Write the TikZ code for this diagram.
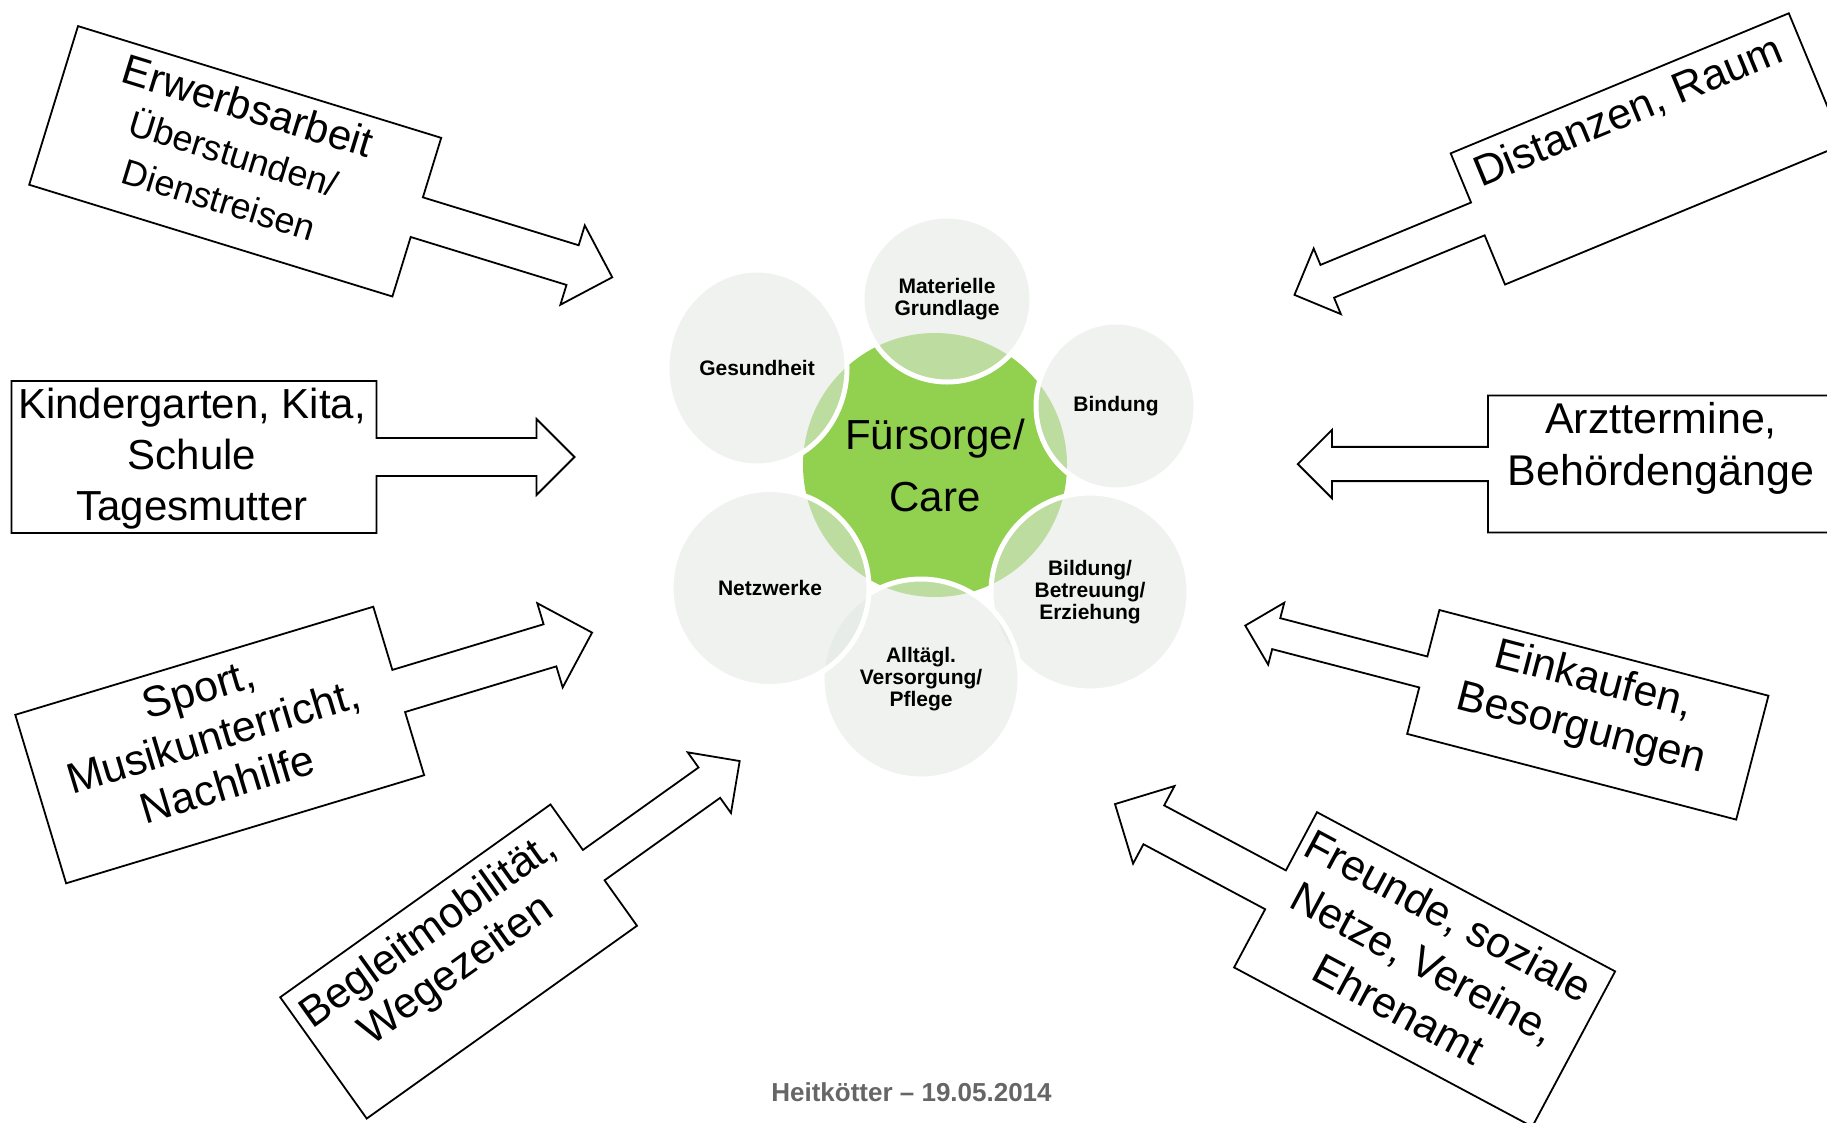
\documentclass[tikz,border=0pt]{standalone}
\usepackage{fontspec}
\setmainfont{Liberation Sans}
\usetikzlibrary{shapes.geometric}
\definecolor{cgreen}{HTML}{92D050}
\definecolor{csat}{RGB}{227,231,227}
\definecolor{cfoot}{HTML}{666666}
\tikzset{
  calloutline/.style={draw=black, fill=white, line width=1.8pt},
  calltext/.style={align=center, inner sep=0pt, font=\fontsize{43}{50}\selectfont},
  core/.style={circle, fill=cgreen, minimum size=264pt, inner sep=0pt},
  coretext/.style={align=center, inner sep=0pt, font=\fontsize{42}{62}\selectfont},
  satellite/.style 2 args={ellipse, minimum width=#1, minimum height=#2, inner sep=0pt,
    fill=csat, fill opacity=0.54, text opacity=1, draw=white, line width=5pt,
    align=center, font=\bfseries\fontsize{21}{21.7}\selectfont},
  footer/.style={font=\bfseries\fontsize{26}{26}\selectfont, text=cfoot},
  % box of width #1, height #2, shaft of length #3 pointing along +x
  pics/callout/.style n args={3}{code={
    \draw[calloutline] ({-#1/2},{-#2/2}) -- ({#1/2},{-#2/2}) -- ({#1/2},{-#2/8})
      -- ({#1/2+#3},{-#2/8}) -- ({#1/2+#3},{-#2/4}) -- ({#1/2+#3+#2/4},0)
      -- ({#1/2+#3},{#2/4}) -- ({#1/2+#3},{#2/8}) -- ({#1/2},{#2/8})
      -- ({#1/2},{#2/2}) -- ({-#1/2},{#2/2}) -- cycle;
  }},
}

\begin{document}
\begin{tikzpicture}[x=1pt, y=-1pt]
  \useasboundingbox (0,0) rectangle (1827,1122);
  \clip (0,0) rectangle (1827,1122);
  \fill[white] (0,0) rectangle (1827,1122);

  % care flower
  \node[core] (care) at (935,465) {};
  \node[satellite={170pt}{166pt}] (materiell) at (947,299) {Materielle\\Grundlage};
  \node[satellite={160pt}{168pt}] (bindung) at (1116,406) {Bindung};
  \node[satellite={198pt}{198pt}] (bildung) at (1090,592) {Bildung/\\Betreuung/\\Erziehung};
  \node[satellite={198pt}{200pt}] (alltag) at (921,679) {Alltägl.\\Versorgung/\\Pflege};
  \node[satellite={198pt}{197pt}] (netz) at (770,588) {Netzwerke};
  \node[satellite={180pt}{196pt}] (gesund) at (757,368) {Gesundheit};
  \node[coretext] (caretext) at (care) {Fürsorge/\\Care};

  % arrows pointing in
  \begin{scope}[shift={(235.2,161.3)}, rotate=-17.1, transform shape]
    \pic {callout={380}{166}{163}};
    \node[calltext, font=\fontsize{36}{48}\selectfont] (erwerb) at (-4,-9)
      {{\fontsize{42}{48}\selectfont Erwerbsarbeit}\\Überstunden/\\Dienstreisen};
  \end{scope}
  \begin{scope}[shift={(194,457)}]
    \pic {callout={365}{152}{160}};
    \node[calltext, font=\fontsize{42}{51}\selectfont] (kita) at (-2,2)
      {Kindergarten, Kita,\\Schule\\Tagesmutter};
  \end{scope}
  \begin{scope}[shift={(219.7,745)}, rotate=16.8, transform shape]
    \pic {callout={374}{176}{158}};
    \node[calltext] (sport) at (-4,-10) {Sport,\\Musikunterricht,\\Nachhilfe};
  \end{scope}
  \begin{scope}[shift={(458.6,961.5)}, rotate=35.5, transform shape]
    \pic {callout={332}{149}{142}};
    \node[calltext, font=\fontsize{43}{48}\selectfont] (begleit) at (-7,-17)
      {Begleitmobilität,\\Wegezeiten};
  \end{scope}

  % arrows pointing back
  \begin{scope}[shift={(1646.9,148.9)}, rotate=22.5, transform shape]
    \pic[xscale=-1] {callout={366}{142}{163}};
    \node[calltext] (distanz) at (-3,-41) {Distanzen, Raum};
  \end{scope}
  \begin{scope}[shift={(1661,464)}]
    \pic[xscale=-1] {callout={346}{137}{156}};
    \node[calltext, font=\fontsize{43}{52}\selectfont] (arzt) at (0,-16)
      {Arzttermine,\\Behördengänge};
  \end{scope}
  \begin{scope}[shift={(1587.8,714.8)}, rotate=-14.6, transform shape]
    \pic[xscale=-1] {callout={340}{128}{152}};
    \node[calltext] (einkauf) at (-3,-9) {Einkaufen,\\Besorgungen};
  \end{scope}
  \begin{scope}[shift={(1424.6,969.4)}, rotate=-28.1, transform shape]
    \pic[xscale=-1] {callout={338}{176}{138}};
    \node[calltext, font=\fontsize{43}{53}\selectfont] (freunde) at (-4,-6)
      {Freunde, soziale\\Netze, Vereine,\\Ehrenamt};
  \end{scope}

  \node[footer] (datum) at (911.5,1092) {Heitkötter -- 19.05.2014};
\end{tikzpicture}
\end{document}
